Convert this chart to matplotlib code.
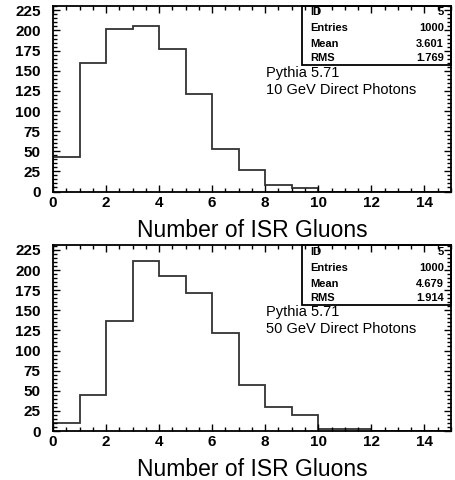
import numpy as np
import matplotlib
matplotlib.use("Agg")
import matplotlib.pyplot as plt
from matplotlib.ticker import MultipleLocator
from matplotlib.patches import Rectangle

# Number of ISR gluons per event, bins of width 1 starting at 0
bin_edges = list(range(0, 16))
counts_10gev = [43, 159, 202, 206, 177, 121, 53, 27, 8, 4, 0, 0, 0, 0, 0]
counts_50gev = [10, 45, 137, 211, 192, 171, 122, 57, 30, 20, 3, 2, 0, 0, 0]

stats_10gev = {"ID": "5", "Entries": "1000", "Mean": "3.601", "RMS": "1.769"}
stats_50gev = {"ID": "5", "Entries": "1000", "Mean": "4.679", "RMS": "1.914"}

labels_10gev = ["Pythia 5.71", "10 GeV Direct Photons"]
labels_50gev = ["Pythia 5.71", "50 GeV Direct Photons"]

x_title = "Number of ISR Gluons"

plt.rcParams["font.family"] = ["Liberation Sans", "DejaVu Sans"]

fig = plt.figure(figsize=(4.55, 4.8), dpi=100)

panels = [
    (0.601, counts_10gev, stats_10gev, labels_10gev, 0.519),
    (0.102, counts_50gev, stats_50gev, labels_50gev, 0.021),
]

for bottom, counts, stats, labels, title_y in panels:
    ax = fig.add_axes([0.1165, bottom, 0.8745, 0.3875])
    ax.stairs(counts, bin_edges, color="#333333", linewidth=1.3)
    ax.set_xlim(0, 15)
    ax.set_ylim(0, 231)

    ax.xaxis.set_major_locator(MultipleLocator(2))
    ax.xaxis.set_minor_locator(MultipleLocator(0.5))
    ax.yaxis.set_major_locator(MultipleLocator(25))
    ax.yaxis.set_minor_locator(MultipleLocator(5))
    ax.tick_params(which="both", direction="in", top=True, right=True,
                   width=1.0, color="black")
    ax.tick_params(axis="y", which="major", length=5, labelsize=11, pad=9)
    ax.tick_params(axis="x", which="major", length=5, labelsize=11, pad=3)
    ax.tick_params(which="minor", length=3)
    for lab in ax.get_xticklabels() + ax.get_yticklabels():
        lab.set_fontweight("bold")
    for sp in ax.spines.values():
        sp.set_linewidth(1.3)

    # statistics box in the upper right corner
    ax.add_patch(Rectangle((0.626, 0.680), 0.374, 0.32, transform=ax.transAxes,
                           fill=False, edgecolor="black", linewidth=1.3,
                           clip_on=False, zorder=5))
    row_y = [0.965, 0.877, 0.792, 0.716]
    for (key, val), yy in zip(stats.items(), row_y):
        ax.text(0.646, yy, key, transform=ax.transAxes, fontsize=8,
                fontweight="bold", ha="left", va="center")
        ax.text(0.982, yy, val, transform=ax.transAxes, fontsize=8,
                fontweight="bold", ha="right", va="center")

    ax.text(0.535, 0.639, labels[0], transform=ax.transAxes, fontsize=10.5,
            ha="left", va="center")
    ax.text(0.535, 0.546, labels[1], transform=ax.transAxes, fontsize=10.5,
            ha="left", va="center")

    fig.text(0.554, title_y, x_title, fontsize=16.5, ha="center",
             va="center")

fig.savefig("out.png", dpi=100)
